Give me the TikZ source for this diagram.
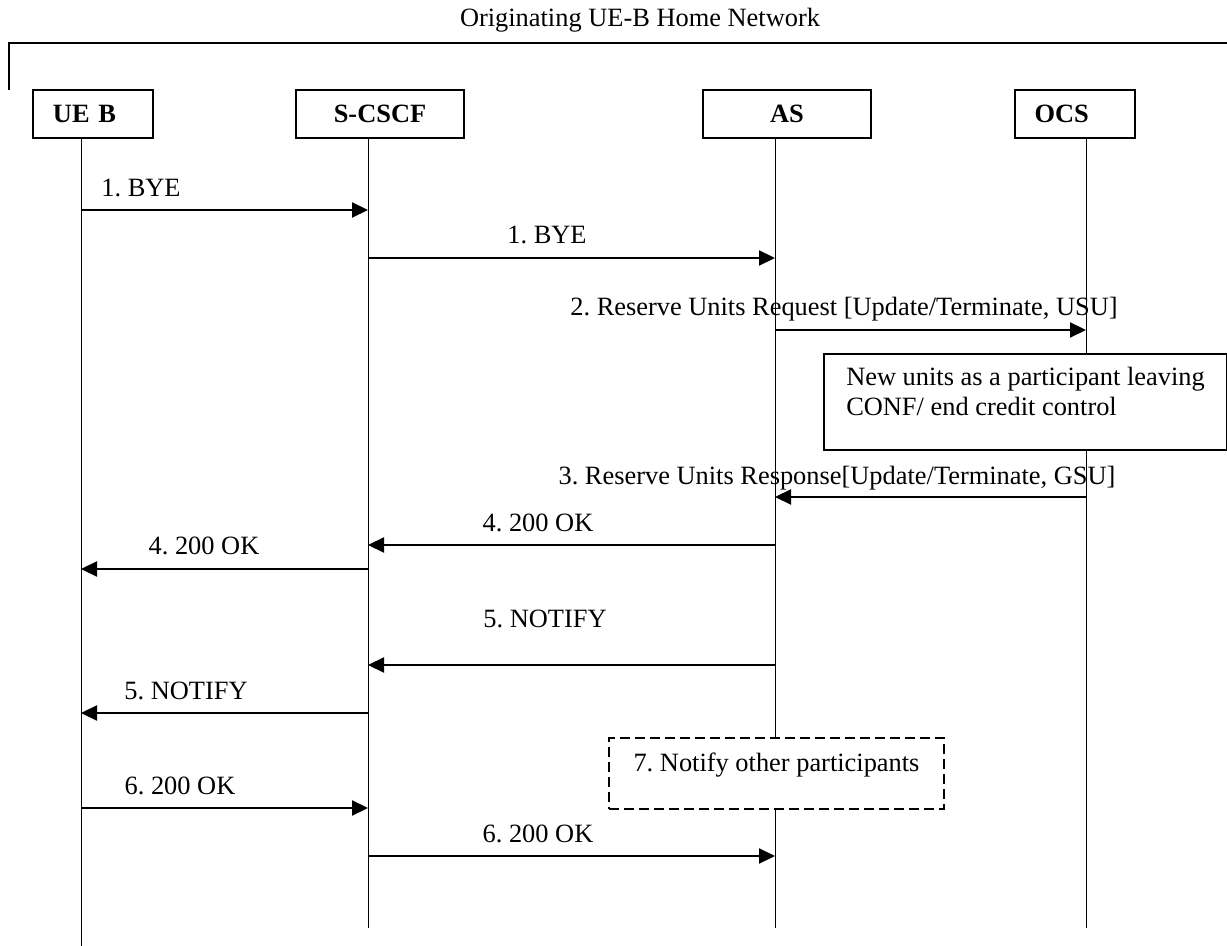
\documentclass[tikz,border=0pt]{standalone}
\usepackage{fontspec}
\setmainfont{Liberation Serif}
\frenchspacing
\usetikzlibrary{arrows.meta,positioning}
\tikzset{
  font=\fontsize{13.2pt}{15pt}\selectfont,
  entity/.style ={draw, line width=1pt, minimum height=24pt, inner sep=0pt, font=\fontsize{13.2pt}{15pt}\selectfont\bfseries},
  entityl/.style={entity, align=left, inner xsep=10pt, text width=40pt},
  life/.style   ={line width=0.5pt},
  msg/.style    ={-{Triangle[length=8pt, width=7.5pt]}, line width=1.1pt},
  lbl/.style    ={inner sep=0pt, anchor=base},
  notebox/.style={draw, line width=1pt, fill=white, align=left, inner sep=0pt, anchor=north west},
  dashbox/.style={notebox, dash pattern=on 5pt off 2.5pt},
}
\begin{document}
\begin{tikzpicture}[x=0.5pt, y=-0.5pt]
  \useasboundingbox (0,0) rectangle (1227,946);

  % network frame
  \node[inner sep=0pt] (title) at (640,20) {Originating UE-B Home Network};
  \draw[line width=1pt] (9,90) -- (9,43) -- (1227,43);

  % entities and lifelines
  \node[entityl]                    (ueb)   at (93,114)     {UE B};
  \node[entity, minimum width=84pt] (scscf) at (380,114)    {S-CSCF};
  \node[entity, minimum width=84pt] (as)    at (787,114)    {AS};
  \node[entityl]                    (ocs)   at (1074.5,114) {OCS};
  \coordinate (ueb-end)   at (81,946);
  \coordinate (scscf-end) at (368,928);
  \coordinate (as-end)    at (775,928);
  \coordinate (ocs-end)   at (1086,928);
  \foreach \e in {ueb, scscf, as, ocs}
      \draw[life] (\e-end |- \e.south) -- (\e-end);

  % messages
  \foreach \y/\a/\b in {210/ueb/scscf, 258/scscf/as, 330/as/ocs, 497/ocs/as,
                        545/as/scscf, 569/scscf/ueb, 665/as/scscf, 713/scscf/ueb,
                        808/ueb/scscf, 856/scscf/as} {
      \coordinate (m) at (0,\y);
      \draw[msg] (\a-end |- m) -- (\b-end |- m);
  }
  \node[lbl] (bye1)  at (141,197) {1. BYE};
  \node[lbl] (bye2)  at (547,244) {1. BYE};
  \node[lbl] (rur)   at (844,316) {2. Reserve Units Request [Update/Terminate, USU]};
  \node[lbl] (rua)   at (837,485) {3. Reserve Units Response[Update/Terminate, GSU]};
  \node[lbl] (ok4a)  at (538,531) {4. 200 OK};
  \node[lbl] (ok4b)  at (204,555) {4. 200 OK};
  \node[lbl] (ntf5a) at (545,627) {5. NOTIFY};
  \node[lbl] (ntf5b) at (186,699) {5. NOTIFY};
  \node[lbl] (ok6a)  at (180,794) {6. 200 OK};
  \node[lbl] (ok6b)  at (538,842) {6. 200 OK};

  % notes
  \node[notebox, minimum width=201.5pt, minimum height=48pt, text depth=11pt] (units) at (823,353)
        {New units as a participant leaving\\CONF/ end credit control};
  \node[dashbox, minimum width=167.5pt, minimum height=35.5pt,
        text height=9pt, text depth=11.5pt] (others) at (608,737)
        {7. Notify other participants};
\end{tikzpicture}
\end{document}
